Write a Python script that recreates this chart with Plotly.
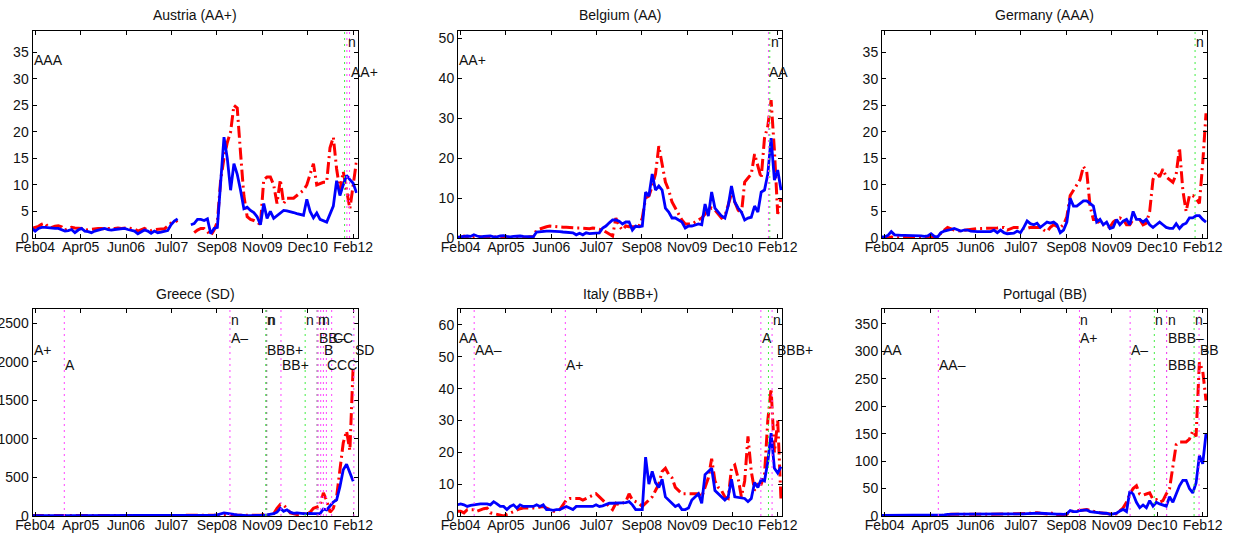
import plotly.graph_objects as go

# ---------------- data (monthly, index 0 = Jan 2004) ----------------
months = list(range(99))

tick_vals = [1, 14.71, 28.43, 42.14, 55.86, 69.57, 83.29, 97]
tick_text = ["Feb04", "Apr05", "Jun06", "Jul07", "Sep08", "Nov09", "Dec10", "Feb12"]

titles = ["Austria (AA+)", "Belgium (AA)", "Germany (AAA)",
          "Greece (SD)", "Italy (BBB+)", "Portugal (BB)"]

N = None

austria_blue = [1.8,1.3,1.8,2.0,2.0,1.9,1.9,1.8,1.8,1.5,
 1.3,1.4,1.6,1.0,1.5,1.8,1.3,1.2,1.0,1.3,
 1.5,1.6,1.8,1.6,1.5,1.6,1.7,1.7,1.8,1.6,
 1.5,1.3,0.8,1.2,1.5,1.3,0.9,1.3,1.0,1.1,
 1.3,1.4,2.5,3.2,3.6,N,N,N,2.5,2.7,
 3.5,3.5,3.3,3.6,0.8,1.8,2.0,11,19,15,
 9,14,12,9,5.5,5.8,5.2,4.8,4.0,2.5,
 6.5,3.7,5.0,3.7,4.2,4.8,5.2,5.1,5.0,4.8,
 4.6,4.5,4.3,7.3,5.0,3.8,4.7,3.5,3.3,3.0,
 4.5,6.0,10.8,8.0,10.0,11.8,11.0,10.3,8.5]
austria_red = [1.8,2.0,2.2,2.6,2.8,2.0,2.0,2.2,2.3,2.1,
 1.5,1.8,2.0,1.9,1.8,1.8,1.5,1.6,1.7,1.8,
 1.8,1.8,1.7,1.8,1.7,1.8,1.9,1.8,1.9,1.9,
 1.8,1.7,1.3,1.6,1.8,1.5,1.4,1.6,1.7,1.7,
 1.7,2.2,2.8,3.0,3.3,N,N,N,N,1.0,
 1.5,1.8,1.8,1.2,0.5,1.5,3.0,11,15,18,
 20,25,24.5,16,8,4,3.5,3.3,3.0,2.5,
 11,11.5,11.5,10,6.5,11,6.5,7.5,7.5,7.5,
 8,8.5,9,10,12,14,10,10.2,10.5,10.5,
 17,19,13,9,12.5,9,5.5,10,14.5]

belgium_blue = [0.2,0.3,0.4,0.5,0.4,0.8,0.5,0.3,0.4,0.5,
 0.5,0.3,0.3,0.5,0.6,0.4,0.3,0.4,0.5,0.5,
 0.4,0.4,0.3,0.3,1.5,1.6,1.6,1.7,1.7,1.7,
 1.6,1.6,1.5,1.4,1.3,1.3,0.8,1.2,0.8,1.3,
 1.1,1.2,1.3,1.3,2.5,3.0,3.8,4.5,4.5,4.2,
 3.5,4.0,4.0,2.0,3.0,2.8,3.0,11.5,10.5,16,
 12,13,12,7.5,6.5,5.0,5.0,4.5,4.0,2.5,
 3.0,3.0,3.3,3.5,3.3,8.5,5.5,11.5,7.5,6.5,
 5.5,5.0,8.0,13,9,7.5,6.5,4.5,5.0,5.2,
 8.0,6.5,11.5,12,16,25,14.5,17,12]
belgium_red = [0.0,0.1,0.5,0.2,0.0,0.1,0.2,0.3,0.1,0.0,
 0.1,0.2,0.3,0.1,0.0,0.0,0.0,0.0,0.0,0.0,
 0.0,0.1,0.3,0.3,2.0,2.3,2.6,2.8,3.0,2.9,
 2.8,2.8,2.7,2.7,2.6,2.5,2.5,2.5,2.5,2.4,
 2.3,2.5,2.4,2.2,2.0,1.5,1.0,0.5,5.0,3.0,
 2.0,3.0,2.8,2.8,2.8,3.0,5.0,10,10.5,13,
 16,23,18,14,12,9,7.5,6,4.5,3.5,
 3.5,3.5,4.0,4.5,5.0,6.0,7.0,7.5,7.0,6.0,
 5.0,5.5,8.0,11,9,7.0,6.0,14,15,16,
 21,18,15,25,28,34.5,22,6,10]

germany_blue = [0.2,0.2,0.5,1.2,0.6,0.5,0.5,0.5,0.5,0.5,
 0.5,0.5,0.4,0.3,0.4,0.8,0.3,0.2,1.0,1.3,
 1.4,1.6,1.8,1.5,1.3,1.5,1.5,1.3,1.2,1.2,
 1.2,1.2,1.2,1.2,1.5,1.0,1.5,1.0,0.8,0.8,
 0.9,1.3,1.0,2.0,3.2,2.7,2.5,2.8,2.0,2.5,
 3.0,2.8,3.0,2.5,1.0,1.5,3.0,7.5,6.0,6.0,
 6.5,7.0,7.0,6.5,6.0,3.0,3.5,2.5,3.0,1.8,
 2.0,3.5,2.5,3.2,3.5,2.5,5.0,3.5,3.5,3.0,
 3.5,2.5,2.0,2.5,3.0,2.5,2.0,1.8,1.8,2.7,
 1.8,2.5,2.8,3.8,3.8,4.2,4.2,3.5,3.0]
germany_red = [0.1,0.0,0.0,0.2,0.1,0.0,0.0,0.1,0.0,0.0,
 0.0,0.0,0.0,0.0,0.1,0.2,0.0,0.3,1.0,1.5,
 2.0,1.7,1.5,1.3,1.4,1.5,1.6,1.7,1.8,1.8,
 1.8,1.8,1.8,1.8,1.9,1.9,2.0,2.0,1.5,1.8,
 2.0,2.0,2.0,1.8,1.8,2.0,2.0,2.0,2.0,1.5,
 1.2,2.0,2.5,2.2,2.0,2.5,4.0,8.0,9.0,10,
 11,13.5,12.5,6.0,3.5,3.5,2.5,2.5,2.3,2.0,
 3.0,3.5,3.8,3.5,2.5,2.5,3.5,4.0,3.5,2.5,
 2.8,5.0,11,12.5,11.5,13,11.5,11,10.5,12,
 17,9,5.0,8.0,8.0,7.5,6.5,14,23.5]

greece_blue = [5,4,4,5,5,4,4,4,4,3,
 3,3,3,3,3,3,3,3,3,3,
 3,3,3,3,3,3,3,3,3,3,
 3,3,3,3,3,3,3,3,3,3,
 4,4,4,4,5,5,5,5,5,6,
 6,6,6,8,10,12,15,30,40,35,
 25,20,15,10,8,5,5,5,5,8,
 10,15,20,30,50,100,60,80,50,35,
 40,30,30,30,35,30,30,30,90,80,
 130,180,210,380,600,670,560,450,N]
greece_red = [8,6,5,5,5,5,5,5,5,5,
 4,4,4,4,4,4,4,4,4,4,
 4,4,4,4,4,4,4,4,4,4,
 4,4,4,4,4,4,4,4,4,4,
 4,4,4,4,4,4,4,4,4,4,
 5,5,5,5,5,5,5,5,5,5,
 5,5,5,5,5,5,5,5,8,10,
 20,10,20,30,100,150,140,100,40,30,
 20,20,30,40,50,100,110,130,300,200,
 50,100,250,600,950,1100,850,1950,N]

italy_blue = [3.5,3.8,3.5,3.0,3.3,3.5,3.8,3.8,3.8,3.8,
 3.5,4.5,3.8,3.0,3.0,2.0,3.0,3.5,2.5,3.5,
 3.0,3.0,3.0,3.0,3.5,3.0,3.5,2.0,2.0,1.8,
 2.0,2.0,2.5,3.0,2.5,2.0,3.0,3.0,3.0,3.0,
 3.0,3.0,3.5,3.0,3.2,3.5,4.0,4.0,4.0,4.0,
 4.0,4.2,4.5,3.5,2.0,2.0,2.0,18.5,10,14,
 10.5,9.0,11.5,6.0,5.0,4.0,3.0,3.5,2.0,2.0,
 2.5,5.0,6.0,7.0,4.0,13,14,15,8.0,7.0,
 6.0,5.0,6.0,11.5,6.0,5.8,5.5,5.5,4.5,5.5,
 10.5,9.0,11.5,11,17,26,15,13.5,15.5]
italy_red = [1.5,1.5,1.0,2.0,2.0,2.0,1.5,2.0,2.3,2.5,
 1.0,0.8,0.5,0.3,0.0,0.5,1.0,1.5,2.0,2.3,
 2.5,2.5,2.5,2.5,2.5,2.8,3.0,2.5,2.0,1.5,
 1.5,2.0,3.5,5.0,5.5,5.5,5.5,5.5,5.0,5.5,
 6.0,6.5,7.0,6.0,5.0,4.0,3.0,2.0,4.0,3.5,
 4.0,4.5,7.0,5.0,4.5,4.0,3.0,4.0,5.0,6.0,
 8.0,10,14,15,13,12,9,8,7.0,7.0,
 7.0,7.0,7.0,7.0,6.0,9.0,12,18,11,9.0,
 8.0,6.0,5.5,15,16,12,6.0,11,25,14,
 8.0,10,10,13,30,40,20,30,5.0]

portugal_blue = [1.0,1.0,1.0,1.0,1.0,1.0,1.0,1.0,1.0,1.0,
 1.0,1.0,1.0,1.0,1.0,1.0,1.0,1.0,1.0,2.0,
 3.0,3.5,3.5,3.5,3.5,3.5,3.5,3.0,3.0,3.0,
 3.0,3.0,3.0,3.0,3.5,3.5,3.5,3.5,3.5,3.5,
 3.5,4.0,4.0,4.0,4.5,5.0,5.0,5.0,5.0,4.5,
 4.5,4.0,4.0,3.5,3.5,3.0,4.0,10,8,8,
 10,10,11,8,7,6,6,5,5,3,
 4,5,9,12,8,45,40,25,15,20,
 15,28,18,25,22,20,18,35,25,40,
 55,65,65,50,42,60,110,95,150]
portugal_red = [0.5,0.5,0.5,0.5,0.5,0.5,0.5,0.5,0.5,0.5,
 0.5,0.5,0.5,0.5,0.5,0.5,0.5,0.5,0.5,2.0,
 3.0,3.0,3.0,3.0,3.0,3.0,3.0,3.0,3.0,3.0,
 2.5,2.5,2.5,3.0,3.0,3.0,3.0,3.0,3.5,3.5,
 4.0,4.0,4.0,4.5,5.0,5.0,5.5,6.0,5.0,4.0,
 3.5,6.0,4.0,2.0,2.0,2.5,3.0,8,9,10,
 10,11,12,10,8,7,6,5,4,3,
 3,4,10,15,25,40,50,55,40,38,
 40,42,30,30,25,28,40,50,90,130,
 135,135,135,140,155,145,280,265,210]

blue_series = [austria_blue, belgium_blue, germany_blue, greece_blue, italy_blue, portugal_blue]
red_series = [austria_red, belgium_red, germany_red, greece_red, italy_red, portugal_red]

y_max = [39, 51.8, 39, 2685, 65, 377]
y_dtick = [5, 10, 5, 500, 10, 50]

# rating events: (month, line colour or None, label, label level)
austria_events = [(0.3, None, "AAA", 1), (94.4, "g", None, 0), (95.1, "m", "n", 0), (95.9, "m", "AA+", 2)]
belgium_events = [(0.3, None, "AA+", 1), (94.2, "m", "AA", 2), (94.6, "g", "n", 0)]
germany_events = [(94.7, "g", "n", 0)]
greece_events = [(0.3, None, "A+", 2), (9.8, "m", "A", 3), (59.8, "m", "n", 0), (59.8, None, "A\u2013", 1),
                 (70.6, "g", "n", 0), (70.9, "k", "n", 0), (70.6, None, "BBB+", 2),
                 (75.2, "m", "BB+", 3), (82.5, "g", "n", 0),
                 (86.1, "k", "n", 0), (86.4, "m", "BB\u2013", 1), (87.2, "m", "n", 0),
                 (88.0, "m", "B", 2), (88.9, "m", "CCC", 3), (90.5, "m", "CC", 1), (97.2, "m", "SD", 2)]
italy_events = [(0.3, None, "AA", 1), (5.1, "m", "AA\u2013", 2), (32.7, "m", "A+", 3), (91.9, "m", "A", 1),
                (94.2, "g", None, 0), (95.3, "m", "n", 0), (96.4, None, "BBB+", 2)]
portugal_events = [(0.3, None, "AA", 2), (17.2, "m", "AA\u2013", 3), (59.8, "m", "n", 0), (59.8, None, "A+", 1),
                   (75.1, "m", "A\u2013", 2), (82.4, "g", "n", 0), (86.1, "k", None, 0), (86.1, "m", "n", 0),
                   (86.1, None, "BBB\u2013", 1), (86.1, None, "BBB", 3), (94.4, "g", "n", 0), (95.9, "m", "BB", 2)]
events = [austria_events, belgium_events, germany_events, greece_events, italy_events, portugal_events]

# ---------------- layout geometry ----------------
W, H = 1233, 537
col_px = [(32.5, 357.5), (458, 782), (882, 1207)]
row_px = [(31, 238), (309, 516)]
x_range = [0.2, 98.3]
level_frac = {0: 0.949, 1: 0.862, 2: 0.80, 3: 0.729}
line_col = {"m": "#ff44ff", "g": "#44ee44", "k": "#777777"}
FONT = "Arial, Liberation Sans, Helvetica, sans-serif"
FS = 14

fig = go.Figure()
annotations = []
shapes = []
layout = {}

for i in range(6):
    r, c = divmod(i, 3)
    n = i + 1
    xa = "x" if n == 1 else f"x{n}"
    ya = "y" if n == 1 else f"y{n}"
    x0, x1 = col_px[c]
    t, b = row_px[r]
    xdom = [x0 / W, x1 / W]
    ydom = [1 - b / H, 1 - t / H]

    fig.add_trace(go.Scatter(x=months, y=red_series[i], mode="lines", xaxis=xa, yaxis=ya,
                             line=dict(color="#ff0000", width=3, dash="12px,4px,2px,4px"),
                             showlegend=False, hoverinfo="skip"))
    fig.add_trace(go.Scatter(x=months, y=blue_series[i], mode="lines", xaxis=xa, yaxis=ya,
                             line=dict(color="#0000ff", width=2.8),
                             showlegend=False, hoverinfo="skip"))

    axis_common = dict(showline=True, linecolor="#000000", linewidth=1, mirror="ticks",
                       ticks="inside", ticklen=4, tickcolor="#000000", showgrid=False,
                       zeroline=False, automargin=False,
                       tickfont=dict(family=FONT, size=FS, color="#111111"))
    layout["xaxis" if n == 1 else f"xaxis{n}"] = dict(
        domain=xdom, range=x_range, anchor=ya, tickmode="array",
        tickvals=tick_vals, ticktext=tick_text, ticklabelstandoff=-4, **axis_common)
    layout["yaxis" if n == 1 else f"yaxis{n}"] = dict(
        domain=ydom, range=[0, y_max[i]], anchor=xa, tickmode="linear",
        tick0=0, dtick=y_dtick[i], **axis_common)

    annotations.append(dict(text=titles[i], xref="paper", yref="paper",
                            x=(xdom[0] + xdom[1]) / 2, y=1 - (t - 15.5) / H,
                            xanchor="center", yanchor="middle", showarrow=False,
                            font=dict(family=FONT, size=14, color="#111111")))

    for (m, col, lab, lev) in events[i]:
        if col is not None:
            shapes.append(dict(type="line", xref=xa, yref=f"{ya} domain", x0=m, x1=m, y0=0, y1=1,
                               line=dict(color=line_col[col], width=1, dash="2px,4px"), layer="above"))
        if lab is not None:
            annotations.append(dict(text=lab, xref=xa, yref=f"{ya} domain", x=m,
                                    y=level_frac[lev], xanchor="left", yanchor="middle",
                                    showarrow=False, borderpad=0,
                                    font=dict(family=FONT, size=14, color="#111111")))

fig.update_layout(width=W, height=H, margin=dict(l=0, r=0, t=0, b=0),
                  paper_bgcolor="white", plot_bgcolor="white",
                  annotations=annotations, shapes=shapes, **layout)

fig.write_html("out.html", config={"displayModeBar": False},
               post_script="document.body.style.margin='0';document.body.style.overflow='hidden';")
